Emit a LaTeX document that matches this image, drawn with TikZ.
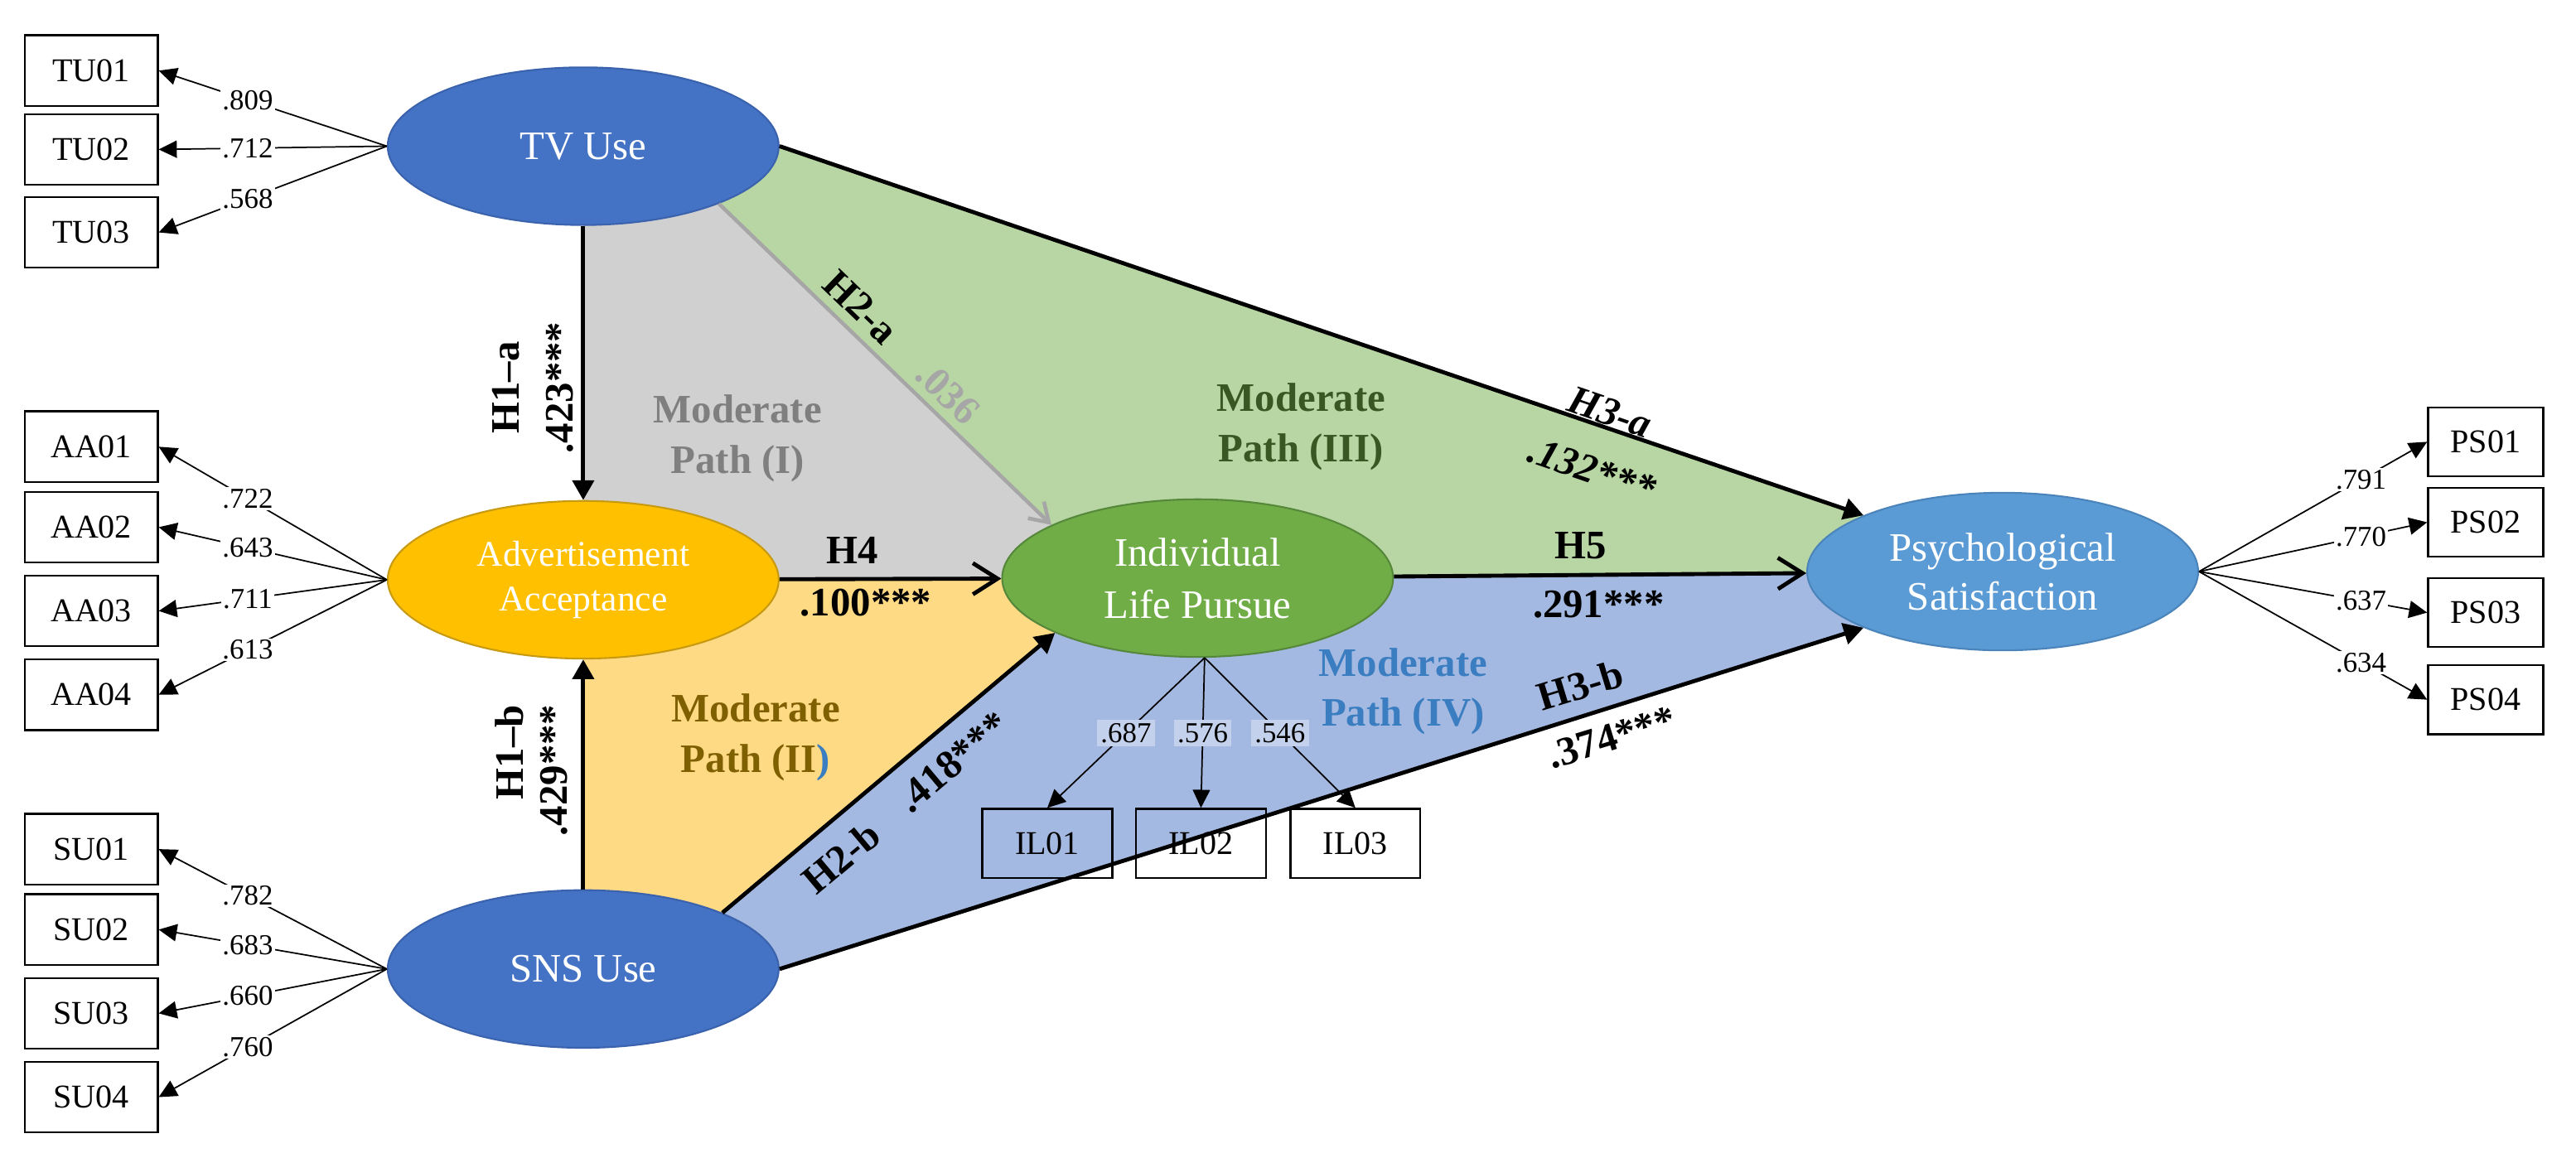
\documentclass[tikz,border=0pt]{standalone}
\usepackage{fontspec}
\setmainfont{Liberation Serif}
\usetikzlibrary{shapes.geometric,arrows.meta,backgrounds}
\definecolor{tvblue}{HTML}{4472C4}
\definecolor{tvborder}{HTML}{3A62AD}
\definecolor{aagold}{HTML}{FFC000}
\definecolor{aaborder}{HTML}{C89A12}
\definecolor{ilgreen}{HTML}{70AD47}
\definecolor{ilborder}{HTML}{55883A}
\definecolor{psblue}{HTML}{5B9BD5}
\definecolor{psborder}{HTML}{4A84BA}
\definecolor{graybg}{HTML}{D0D0D0}
\definecolor{greenbg}{HTML}{B8D6A3}
\definecolor{yellowbg}{HTML}{FFDA85}
\definecolor{bluebg}{HTML}{A4B9E1}
\definecolor{modI}{HTML}{7F7F7F}
\definecolor{modII}{HTML}{7F6000}
\definecolor{modIII}{HTML}{385723}
\definecolor{modIV}{HTML}{3A7DC0}
\definecolor{ilval}{HTML}{C3D1EC}
\definecolor{h2agray}{HTML}{A6A6A6}
\begin{document}
\begin{tikzpicture}[x=0.2mm,y=-0.2mm,
  latent/.style={ellipse, minimum width=47.6mm, minimum height=19.2mm, inner sep=0pt,
    text=white, align=center, font=\fontsize{14}{17}\selectfont, line width=0.6pt},
  ind/.style={draw=black, line width=0.7pt, minimum width=16.2mm, minimum height=8.6mm,
    inner sep=0pt, font=\fontsize{11.5}{13}\selectfont},
  psind/.style={ind, minimum width=14mm, minimum height=8.4mm},
  ilind/.style={ind, minimum width=15.8mm, minimum height=8.4mm},
  load/.style={line width=0.5pt, -{Triangle[length=2.2mm,width=2.1mm]}},
  lval/.style={fill=white, inner sep=0.6pt, font=\fontsize{10}{12}\selectfont},
  ilv/.style={fill=ilval, inner sep=1.2pt, font=\fontsize{10}{12}\selectfont},
  hyparrow/.style={line width=1.4pt, -{Triangle[length=2.4mm,width=2.6mm]}},
  barbarrow/.style={line width=1.4pt, -{Straight Barb[length=3mm,width=3.8mm]}},
  grayarrow/.style={line width=1.3pt, draw=h2agray, -{Straight Barb[length=2.2mm,width=2.8mm]}},
  hlab/.style={font=\fontsize{14}{17}\selectfont\bfseries, inner sep=0pt},
  hlabit/.style={font=\fontsize{14}{17}\selectfont\bfseries\itshape, inner sep=0pt},
  modlab/.style={font=\fontsize{14}{17.5}\selectfont\bfseries, align=center, inner sep=0pt}
]
\useasboundingbox (0,0) rectangle (1568,702);

% latent variables
\node[latent, fill=tvblue, draw=tvborder] (TV) at (355,89) {TV Use};
\node[latent, fill=aagold, draw=aaborder, font=\fontsize{12.5}{15.5}\selectfont] (AA) at (355,353) {Advertisement\\Acceptance};
\node[latent, fill=tvblue, draw=tvborder] (SNS) at (355,590) {SNS Use};
\node[latent, fill=ilgreen, draw=ilborder, font=\fontsize{14}{18}\selectfont] (ILP) at (729,352) {Individual\\Life Pursue};
\node[latent, fill=psblue, draw=psborder, font=\fontsize{14}{17}\selectfont] (PS) at (1219,348) {Psychological\\Satisfaction};

% coloured moderate-path regions
\begin{pgfonlayer}{background}
\fill[graybg] (TV.center) -- (AA.center) -- (ILP.center) -- (ILP.160) -- (TV.-23) -- cycle;
\fill[greenbg] (TV.-23) -- (TV.east) -- (PS.158) -- (PS.center) -- (ILP.center) -- (ILP.160) -- cycle;
\fill[yellowbg] (AA.center) -- (ILP.center) -- (ILP.201) -- (SNS.22) -- (SNS.center) -- cycle;
\fill[bluebg] (SNS.22) -- (ILP.201) -- (ILP.center) -- (PS.center) -- (PS.202) -- (SNS.east) -- cycle;
\end{pgfonlayer}

% indicators
\node[ind] (TU01) at (55.5,43) {TU01};
\node[ind] (TU02) at (55.5,91) {TU02};
\node[ind] (TU03) at (55.5,141.5) {TU03};
\node[ind] (AA01) at (55.5,272) {AA01};
\node[ind] (AA02) at (55.5,321) {AA02};
\node[ind] (AA03) at (55.5,372) {AA03};
\node[ind] (AA04) at (55.5,423) {AA04};
\node[ind] (SU01) at (55.5,517) {SU01};
\node[ind] (SU02) at (55.5,566) {SU02};
\node[ind] (SU03) at (55.5,617) {SU03};
\node[ind] (SU04) at (55.5,668) {SU04};
\node[psind] (PS01) at (1513,269) {PS01};
\node[psind] (PS02) at (1513,318) {PS02};
\node[psind] (PS03) at (1513,373) {PS03};
\node[psind] (PS04) at (1513,426) {PS04};
\node[ilind] (IL01) at (637.5,513.5) {IL01};
\node[ilind] (IL02) at (731,513.5) {IL02};
\node[ilind] (IL03) at (825,513.5) {IL03};

% loadings
\foreach \b/\v in {TU01/.809, TU02/.712, TU03/.568}
  \draw[load] (TV.west) -- node[lval,pos=0.61]{\v} (\b.east);
\foreach \b/\v in {AA01/.722, AA02/.643, AA03/.711, AA04/.613}
  \draw[load] (AA.west) -- node[lval,pos=0.61]{\v} (\b.east);
\foreach \b/\v in {SU01/.782, SU02/.683, SU03/.660, SU04/.760}
  \draw[load] (SNS.west) -- node[lval,pos=0.61]{\v} (\b.east);
\foreach \b/\v in {PS01/.791, PS02/.770, PS03/.637, PS04/.634}
  \draw[load] (PS.east) -- node[lval,pos=0.71]{\v} (\b.west);
\foreach \b/\v in {IL01/.687, IL02/.576, IL03/.546}
  \draw[load] (ILP.-85) -- node[ilv,pos=0.5]{\v} (\b.north);

% structural paths
\draw[hyparrow] (TV) -- (AA);
\draw[hyparrow] (SNS) -- (AA);
\draw[barbarrow] (AA) -- (ILP);
\draw[barbarrow] (ILP) -- (PS);
\draw[grayarrow] (TV.-23) -- (ILP.160);
\draw[hyparrow] (TV.east) -- (PS.158);
\draw[hyparrow] (SNS.22) -- (ILP.201);
\draw[hyparrow] (SNS.east) -- (PS.202);

% hypothesis labels
\node[hlab, rotate=90] (h1a) at (308,236) {H1–a};
\node[hlab, rotate=90] (v1a) at (341,236) {.423***};
\node[hlab, rotate=90] (h1b) at (310,458) {H1–b};
\node[hlab, rotate=90] (v1b) at (337,469) {.429***};
\node[hlab, rotate=-44] (h2a) at (524,187) {H2-a};
\node[hlab, rotate=-44, text=h2agray] (v2a) at (577,239) {.036};
\node[hlabit, rotate=-19] (h3a) at (980,251) {H3-a};
\node[hlabit, rotate=-19] (v3a) at (969,286) {.132***};
\node[hlab] (h4) at (519,335) {H4};
\node[hlab] (v4) at (527,367) {.100***};
\node[hlab] (h5) at (962,332) {H5};
\node[hlab] (v5) at (973,368) {.291***};
\node[hlab, rotate=40] (h2b) at (512,522) {H2-b};
\node[hlab, rotate=40] (v2b) at (580,464) {.418***};
\node[hlab, rotate=17] (h3b) at (962,417) {H3-b};
\node[hlab, rotate=17] (v3b) at (981,449) {.374***};

% moderate path labels
\node[modlab, text=modI] (m1) at (449,267) {Moderate\\Path (I)};
\node[modlab, text=modIII] (m3) at (792,260) {Moderate\\Path (III)};
\node[modlab, text=modII] (m2) at (460,449) {Moderate\\Path (II\textcolor{modIV}{)}};
\node[modlab, text=modIV] (m4) at (854,421) {Moderate\\Path (IV)};
\end{tikzpicture}
\end{document}
